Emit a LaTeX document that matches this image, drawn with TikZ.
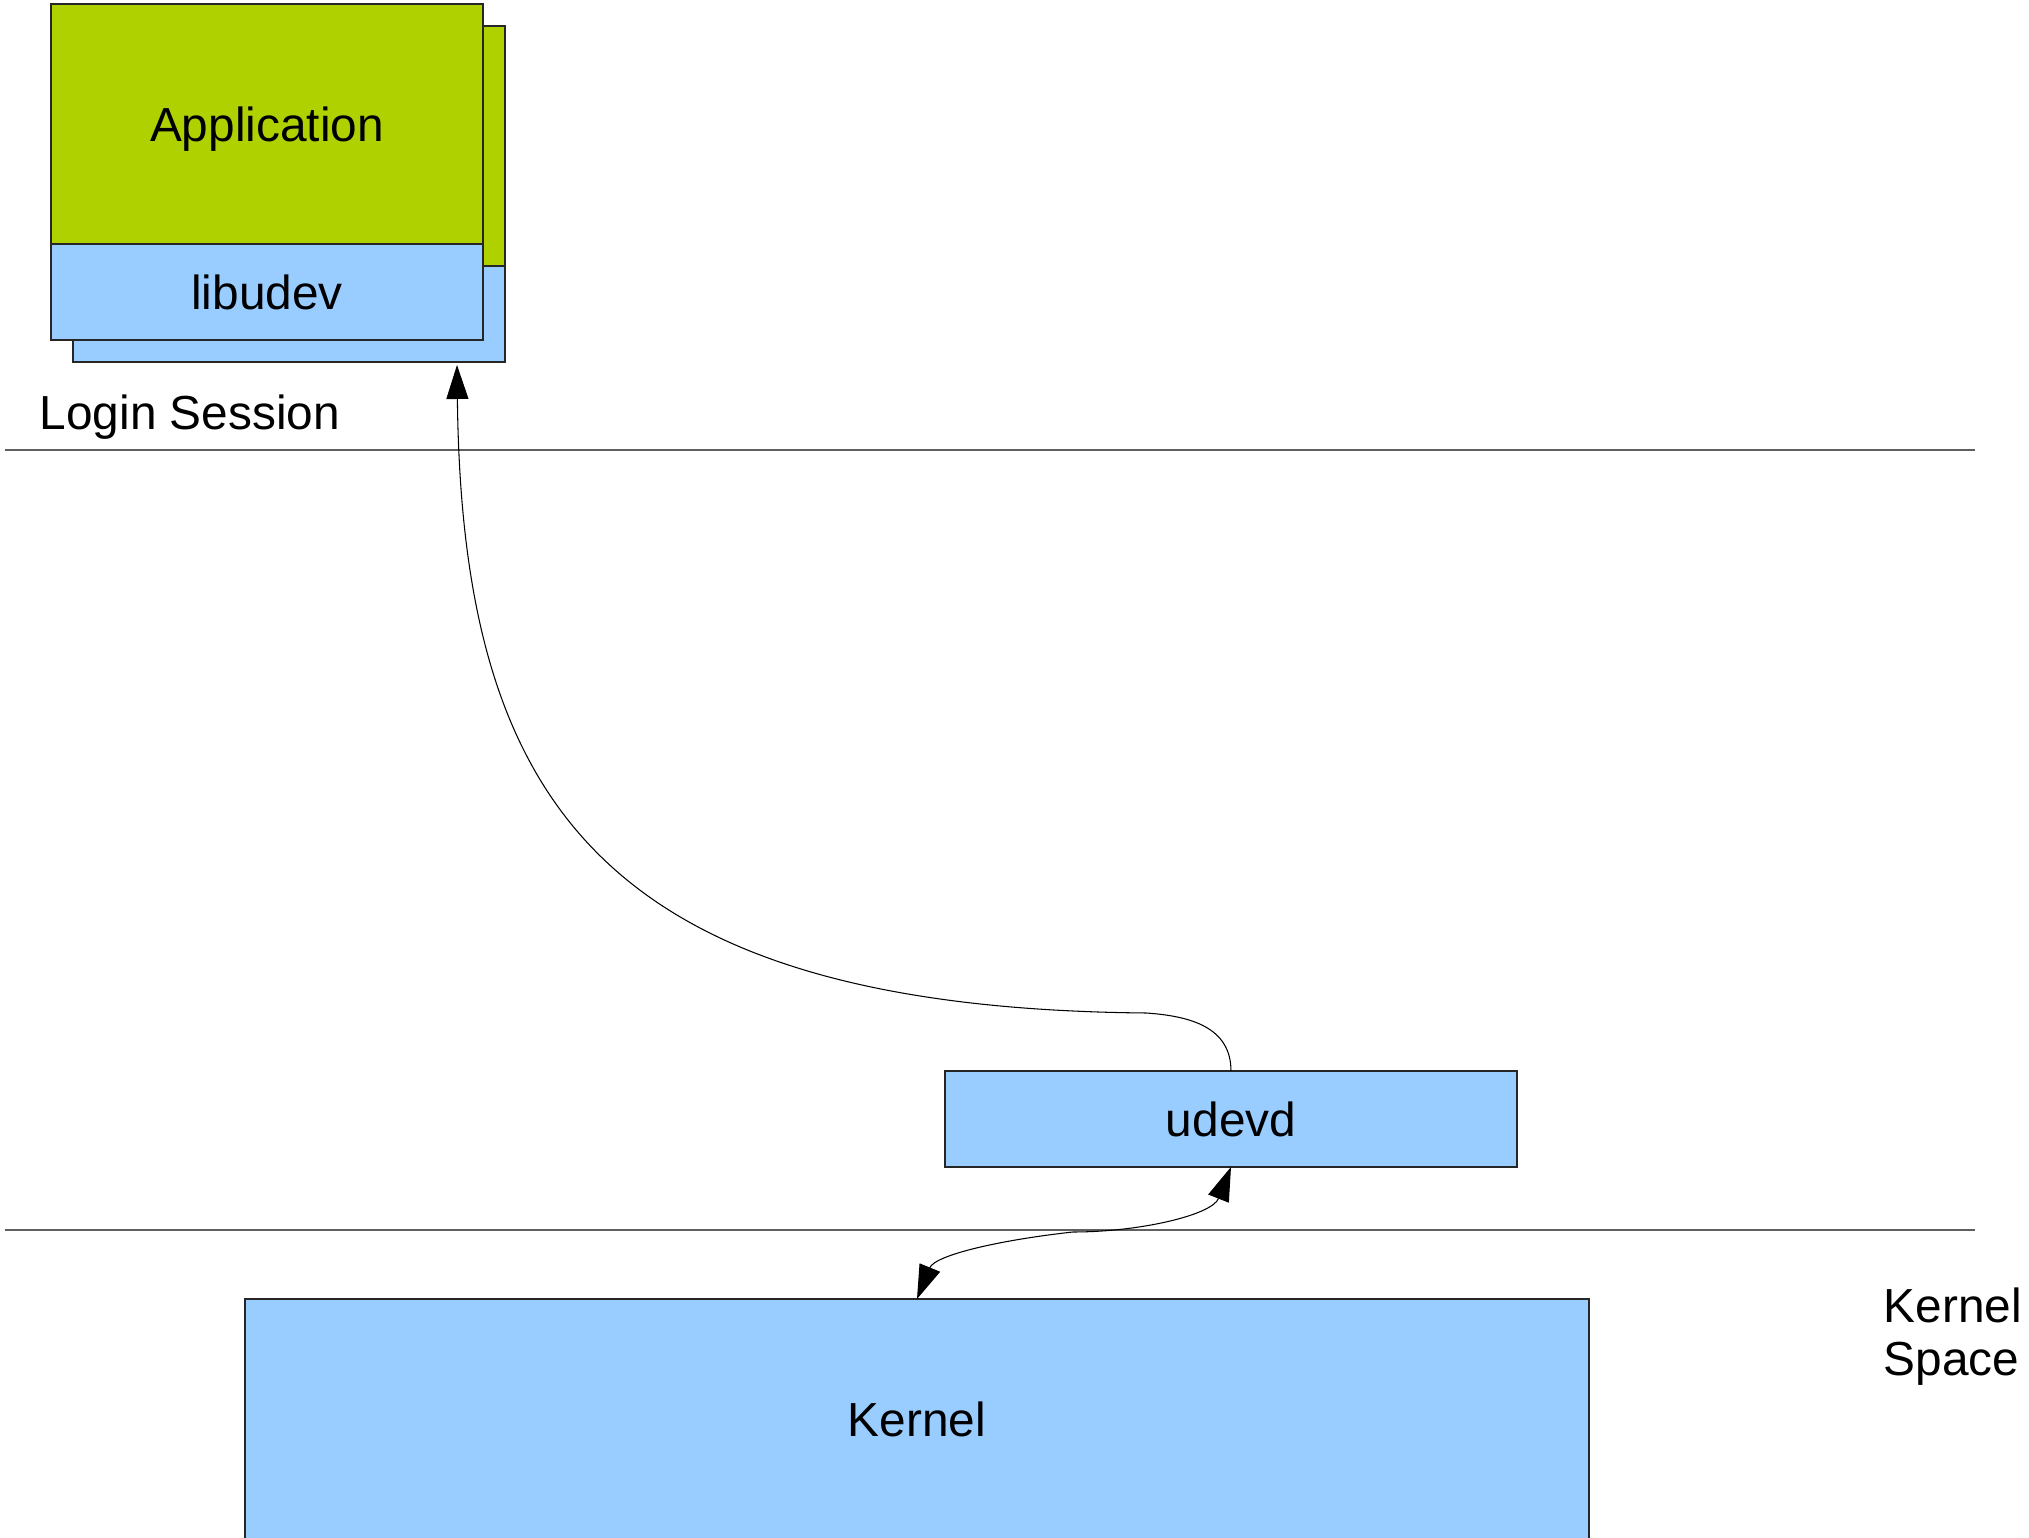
\documentclass[tikz,border=0pt]{standalone}
\usepackage{fontspec}
\setmainfont{Liberation Sans}
\usepackage{tikz}
\usetikzlibrary{calc}
\usetikzlibrary{arrows.meta,positioning}
\definecolor{appgreen}{RGB}{176,209,0}
\definecolor{libblue}{RGB}{153,204,255}
\definecolor{sepgray}{RGB}{96,96,96}
\tikzset{
  boxbase/.style={draw=black!85, line width=0.45pt, inner sep=0pt, outer sep=0pt, text depth=0pt},
  appbox/.style={boxbase, fill=appgreen, minimum width=4.32cm, minimum height=2.40cm},
  libbox/.style={boxbase, fill=libblue, minimum width=4.32cm, minimum height=0.96cm},
  sepline/.style={draw=sepgray, line width=0.35pt},
  conn/.style={draw=black, line width=0.3pt},
  tip/.tip={Triangle[length=3.4mm, width=2.2mm]}
}

\begin{document}
\begin{tikzpicture}[x=0.1mm, y=-0.1mm, font=\fontsize{13.6pt}{15pt}\selectfont]
      \clip (0,0) rectangle (2029,1538);
      \node[appbox, anchor=north west] (appB) at (73,26) {};
      \node[libbox, below=0pt of appB] (libB) {};
      \node[appbox, anchor=north west] (appF) at (51,4) {Application};
      \node[libbox, below=0pt of appF] (libF) {libudev};
      \node[anchor=base west, inner sep=0pt] (login) at (39,430) {Login Session};
      \draw[sepline] (5,450) -- (1975,450);
      \node[libbox, anchor=north west, minimum width=5.72cm] (udevd) at (945,1071) {udevd};
      \draw[sepline] (5,1230) -- (1975,1230);
      \node[libbox, anchor=north west, minimum width=13.44cm, minimum height=2.40cm] (kernel) at (245,1299) {Kernel};
      \node[anchor=north west, align=left, inner sep=0pt] (kspace) at (1883,1287) {Kernel\\Space};
      \coordinate (appin) at ($(libB.south west)+(384,3)$);
      \draw[conn, -tip] (udevd.north) .. controls +(0,-44) and +(44,3) .. (1146,1013)
            .. controls (600,1008) and (462,800) .. (appin);
      \draw[conn, tip-tip] (udevd.south) .. controls (1212,1215) and (1140,1232) .. (1073,1232)
            .. controls (1000,1240) and (935,1255) .. (kernel.north);
\end{tikzpicture}
\end{document}
